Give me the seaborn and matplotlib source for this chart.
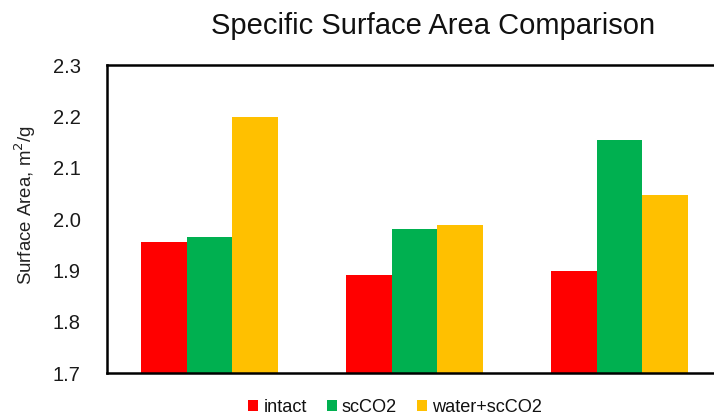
import matplotlib
matplotlib.use("Agg")
import matplotlib.pyplot as plt
import seaborn as sns
import pandas as pd

samples = ["Sample 1", "Sample 2", "Sample 3"]
treatments = ["intact", "scCO2", "water+scCO2"]
intact = [1.955, 1.891, 1.899]
scco2 = [1.965, 1.980, 2.154]
water_scco2 = [2.198, 1.988, 2.047]
colors = ["#FF0000", "#00B050", "#FFC000"]

rows = []
for name, vals in zip(treatments, [intact, scco2, water_scco2]):
    for s, v in zip(samples, vals):
        rows.append({"sample": s, "treatment": name, "area": v})
df = pd.DataFrame(rows)

sns.set_theme(style="white")
plt.rcParams["font.family"] = ["Liberation Sans", "DejaVu Sans"]

fig = plt.figure(figsize=(7.14, 4.2), dpi=100)
ax = fig.add_axes([107 / 714, 1 - 373 / 420, 615 / 714, 308 / 420])

sns.barplot(data=df, x="sample", y="area", hue="treatment",
            palette=colors, width=0.673, gap=0, ax=ax,
            errorbar=None, saturation=1, linewidth=0)

ax.set_ylim(1.7, 2.3)
ax.set_xlim(-0.5, 2.5)
ax.set_yticks([1.7, 1.8, 1.9, 2.0, 2.1, 2.2, 2.3])
ax.set_yticklabels(["1.7", "1.8", "1.9", "2.0", "2.1", "2.2", "2.3"])
ax.set_xticks([])
ax.set_xlabel("")
ax.set_ylabel("Surface Area, m$^2$/g", fontsize=13.4, color="#222222")
ax.yaxis.set_label_coords(-0.112, 0.546)
ax.tick_params(axis="y", length=0, labelsize=14.5, labelcolor="#1a1a1a", pad=19)
for sp in ax.spines.values():
    sp.set_color("black")
    sp.set_linewidth(1.8)

fig.text(433.5 / 714, 1 - 26 / 420, "Specific Surface Area Comparison",
         ha="center", va="center", fontsize=21, color="#111111")

ax.legend(loc="center", bbox_to_anchor=(395 / 714, 1 - 407 / 420),
          bbox_transform=fig.transFigure, ncol=3, frameon=False,
          fontsize=13.1, handlelength=0.55, handleheight=0.55,
          handletextpad=0.27, columnspacing=1.1, borderaxespad=0,
          borderpad=0, labelcolor="#111111")

fig.savefig("out.png", dpi=100)
